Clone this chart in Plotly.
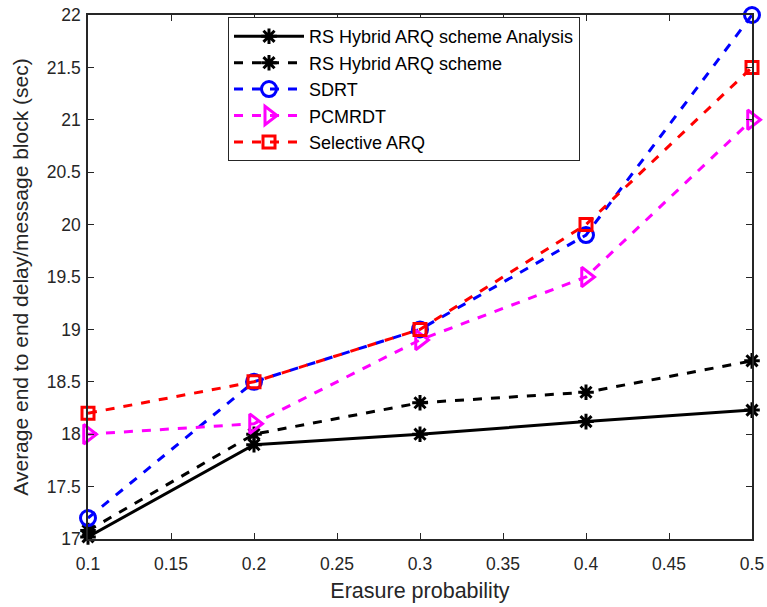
import plotly.graph_objects as go

x = [0.1, 0.2, 0.3, 0.4, 0.5]
analysis = [17.02, 17.9, 18.0, 18.12, 18.23]
scheme = [17.08, 18.0, 18.3, 18.4, 18.7]
sdrt = [17.2, 18.5, 19.0, 19.9, 22.0]
pcmrdt = [18.0, 18.1, 18.9, 19.5, 21.0]
selective = [18.2, 18.5, 19.0, 20.0, 21.5]

yticks = [17, 17.5, 18, 18.5, 19, 19.5, 20, 20.5, 21, 21.5, 22]
xticks = [0.1, 0.15, 0.2, 0.25, 0.3, 0.35, 0.4, 0.45, 0.5]

FONT = "Liberation Sans, Arial"
fig = go.Figure()
series = [
    ("RS Hybrid ARQ scheme Analysis", analysis, "black", "solid", "asterisk-open", 13),
    ("RS Hybrid ARQ scheme", scheme, "black", "dash", "asterisk-open", 13),
    ("SDRT", sdrt, "#0000ff", "dash", "circle-open", 15),
    ("PCMRDT", pcmrdt, "#ff00ff", "dash", "triangle-right-open", 17),
    ("Selective ARQ", selective, "#ff0000", "dash", "square-open", 12),
]
for name, y, c, dash, sym, sz in series:
    fig.add_trace(go.Scatter(
        x=x, y=y, name=name, mode="lines+markers",
        line=dict(color=c, width=3, dash=dash),
        marker=dict(symbol=sym, size=sz, color=c, line=dict(color=c, width=3)),
        cliponaxis=False,
    ))

axis_common = dict(
    showgrid=False, zeroline=False, showline=True, linecolor="#262626", linewidth=1.5,
    mirror="allticks", ticks="inside", ticklen=6, tickcolor="#262626",
    tickfont=dict(family=FONT, size=17.5, color="#262626"),
    automargin=False,
)
fig.update_xaxes(range=[0.1, 0.5], tickvals=xticks, ticktext=[f"{v:g}" for v in xticks],
                 ticklabelstandoff=8,
                 title=dict(text="Erasure probability", font=dict(family=FONT, size=21.5, color="#262626"), standoff=10),
                 **axis_common)
fig.update_yaxes(range=[17, 22], tickvals=yticks, ticktext=[f"{v:g}" for v in yticks],
                 ticklabelstandoff=2,
                 title=dict(text="Average end to end delay/message block (sec)", font=dict(family=FONT, size=21, color="#262626"), standoff=12),
                 **axis_common)

fig.update_layout(
    width=767, height=607,
    margin=dict(l=88, r=15, t=15, b=68),
    plot_bgcolor="white", paper_bgcolor="white",
    legend=dict(x=(228 - 88) / 664, y=0.996, xanchor="left", yanchor="top",
                bordercolor="#262626", borderwidth=1, bgcolor="white",
                font=dict(family=FONT, size=18, color="black"),
                tracegroupgap=0, itemwidth=70),
    showlegend=True,
)
fig.write_html("out.html")
